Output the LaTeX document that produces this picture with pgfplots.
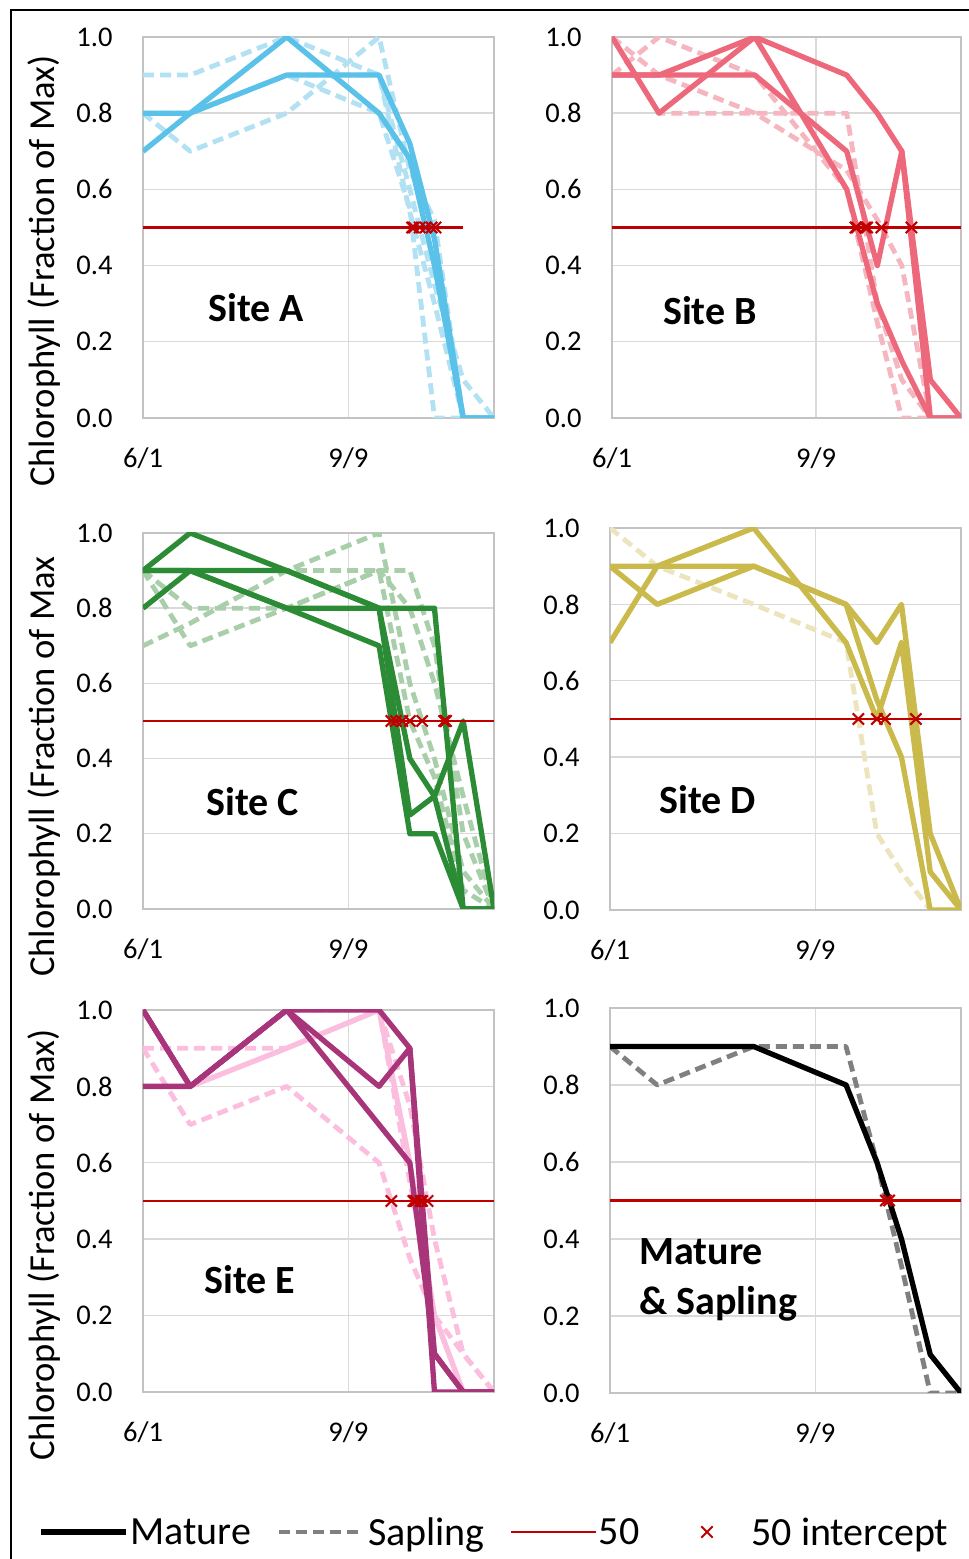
\documentclass[border=0pt]{standalone}
\usepackage{pgfplots}
\pgfplotsset{compat=1.18}
\usepackage{pgfplotstable}
\usepackage{fontspec}
\setmainfont{Carlito}

\definecolor{blueM}{RGB}{90,193,233}
\definecolor{blueS}{RGB}{178,225,244}
\definecolor{redM}{RGB}{236,104,122}
\definecolor{redS}{RGB}{246,182,192}
\definecolor{greenM}{RGB}{44,140,54}
\definecolor{greenS}{RGB}{168,206,170}
\definecolor{yelM}{RGB}{202,186,76}
\definecolor{yelS}{RGB}{235,228,188}
\definecolor{magM}{RGB}{168,52,122}
\definecolor{magS}{RGB}{252,190,222}
\definecolor{grayS}{RGB}{128,128,128}
\definecolor{refred}{RGB}{192,0,0}
\definecolor{gridgray}{RGB}{217,217,217}

% days after 6/1
\pgfplotstableread{
d   m1   m2   s1   s2   s3   s4
0   0.7  0.8  0.9  0.8  0.8  0.8
23  0.8  0.8  0.9  0.7  0.8  0.8
70  1.0  0.9  1.0  0.8  0.9  0.9
115 0.8  0.9  0.9  1.0  0.8  0.9
130 0.68 0.72 0.54 0.65 0.55 0.6
142 0.4  0.47 0.3  0.52 0.0  0.35
156 0.0  0.0  0.0  0.0  0.0  0.1
171 0.0  0.0  0.0  0.0  0.0  0.0
}\tabA
\pgfplotstableread{
d   m1   m2   m3   s1   s2   s3
0   0.9  1.0  0.9  0.9  1.0  1.0
23  0.9  0.8  0.9  1.0  0.8  0.9
70  1.0  1.0  0.9  0.9  0.8  0.8
115 0.9  0.6  0.7  0.6  0.8  0.65
130 0.8  0.3  0.4  0.25 0.3  0.52
142 0.7  0.15 0.7  0.0  0.1  0.4
156 0.1  0.0  0.0  0.0  0.0  0.0
171 0.0  0.0  0.0  0.0  0.0  0.0
}\tabB
\pgfplotstableread{
d   m1   m2   m3   m4   s1   s2   s3   s4
0   0.9  0.8  0.9  0.9  0.7  0.9  0.9  0.9
23  1.0  0.9  0.9  0.9  0.76 0.7  0.8  0.9
70  0.9  0.8  0.9  0.8  0.9  0.8  0.8  0.9
115 0.8  0.7  0.8  0.8  1.0  0.9  0.9  0.9
130 0.4  0.2  0.25 0.8  0.6  0.8  0.9  0.5
142 0.3  0.2  0.3  0.8  0.4  0.6  0.7  0.35
156 0.5  0.0  0.0  0.0  0.1  0.3  0.2  0.05
171 0.0  0.0  0.0  0.0  0.0  0.0  0.0  0.0
}\tabC
\pgfplotstableread{
d   m1   m2   m3   s1
0   0.9  0.7  0.9  1.0
23  0.9  0.9  0.8  0.9
70  0.9  1.0  0.9  0.8
115 0.8  0.7  0.8  0.7
130 0.7  0.5  0.55 0.2
142 0.8  0.7  0.4  0.1
156 0.2  0.1  0.0  0.0
171 0.0  0.0  0.0  0.0
}\tabD
\pgfplotstableread{
d   m1   m2   m3   l1   s1   s2   s3
0   0.8  1.0  1.0  1.0  0.9  0.9  1.0
23  0.8  0.8  0.8  0.8  0.9  0.7  0.8
70  1.0  1.0  1.0  0.9  0.9  0.8  1.0
115 0.8  0.7  1.0  1.0  1.0  0.6  1.0
130 0.9  0.6  0.9  0.6  0.55 0.35 0.75
142 0.0  0.1  0.1  0.2  0.2  0.2  0.4
156 0.0  0.0  0.0  0.0  0.0  0.1  0.1
171 0.0  0.0  0.0  0.0  0.0  0.0  0.0
}\tabE
\pgfplotstableread{
d   m    s
0   0.9  0.9
23  0.9  0.8
70  0.9  0.9
115 0.8  0.9
130 0.6  0.6
142 0.4  0.33
156 0.1  0.0
171 0.0  0.0
}\tabF

\tikzset{
  site/.style={font=\fontsize{40}{50}\selectfont\bfseries},
  mat/.style={line width=5.3pt, line join=round},
  sap/.style={line width=4.8pt, line join=round, dash pattern=on 11pt off 6pt},
}

\pgfplotsset{
  panel/.style={
    scale only axis, width=351pt, height=381pt, anchor=south west,
    xmin=0, xmax=171, ymin=0, ymax=1,
    xtick={0,100}, xticklabels={6/1,9/9},
    ytick={0,0.2,0.4,0.6,0.8,1.0},
    yticklabel style={/pgf/number format/fixed, /pgf/number format/fixed zerofill,
      /pgf/number format/precision=1, /pgf/number format/assume math mode=true, xshift=-27pt},
    xticklabel style={yshift=-26pt},
    tick label style={font=\fontsize{28.5}{30}\selectfont},
    grid=major, major grid style={draw=gridgray, line width=1.4pt},
    axis line style={draw=gridgray!90!black, line width=1.4pt},
    major tick length=0pt,
  },
  ytitle/.style={
    ylabel={#1},
    ylabel style={at={(axis description cs:-0.282,-0.181)}, anchor=west, inner sep=0pt,
      font=\fontsize{36.6}{40}\selectfont},
  },
  fifty/.style={solid, draw=refred, color=refred, line width=2.2pt, mark=none},
  icpt/.style={only marks, mark=x, color=refred, mark size=8pt, mark options={line width=2pt}},
  legline/.style={legend image code/.code={\draw[##1] (0pt,0pt) -- (85pt,0pt);}},
  legmark/.style={legend image code/.code={\path[draw=none] (0pt,0pt) -- (85pt,0pt); \draw[##1] plot coordinates {(42.5pt,0pt)};}},
}

\begin{document}
\begin{tikzpicture}[x=1pt,y=1pt]
\useasboundingbox (0,0) rectangle (969,1559);
\draw[line width=1.5pt] (11,-2) -- (11,1549) -- (971,1549);

% Site A
\begin{axis}[panel, at={(143pt,1141pt)}, height=381pt, ytitle={Chlorophyll (Fraction of Max)}]
\addplot[sap, blueS] table[x=d, y=s1] {\tabA};
\addplot[sap, blueS] table[x=d, y=s2] {\tabA};
\addplot[sap, blueS] table[x=d, y=s3] {\tabA};
\addplot[sap, blueS] table[x=d, y=s4] {\tabA};
\addplot[mat, blueM] table[x=d, y=m1] {\tabA};
\addplot[mat, blueM] table[x=d, y=m2] {\tabA};
\addplot[fifty] table {
x y
0 0.5
100 0.5
156 0.5
};
\addplot[icpt] coordinates {(131.1,0.5) (132,0.5) (134.8,0.5) (137.7,0.5) (140.6,0.5) (142.5,0.5)};
\node[site] at (rel axis cs:0.322,0.289) {Site A};
\end{axis}

% Site B
\begin{axis}[panel, at={(612pt,1141pt)}, width=349pt, height=381pt]
\addplot[sap, redS] table[x=d, y=s1] {\tabB};
\addplot[sap, redS] table[x=d, y=s2] {\tabB};
\addplot[sap, redS] table[x=d, y=s3] {\tabB};
\addplot[mat, redM] table[x=d, y=m1] {\tabB};
\addplot[mat, redM] table[x=d, y=m2] {\tabB};
\addplot[mat, redM] table[x=d, y=m3] {\tabB};
\addplot[fifty] table {
x y
0 0.5
100 0.5
171 0.5
};
\addplot[icpt] coordinates {(119.3,0.5) (120,0.5) (124,0.5) (125,0.5) (132,0.5) (146.7,0.5)};
\node[site] at (rel axis cs:0.281,0.281) {Site B};
\end{axis}

% Site C
\begin{axis}[panel, at={(143pt,650pt)}, height=376pt, ytitle={Chlorophyll (Fraction of Max}]
\addplot[sap, greenS] table[x=d, y=s1] {\tabC};
\addplot[sap, greenS] table[x=d, y=s2] {\tabC};
\addplot[sap, greenS] table[x=d, y=s3] {\tabC};
\addplot[sap, greenS] table[x=d, y=s4] {\tabC};
\addplot[mat, greenM] table[x=d, y=m1] {\tabC};
\addplot[mat, greenM] table[x=d, y=m2] {\tabC};
\addplot[mat, greenM] table[x=d, y=m3] {\tabC};
\addplot[mat, greenM] table[x=d, y=m4] {\tabC};
\addplot[fifty] coordinates {(0,0.5) (171,0.5)};
\addplot[icpt] coordinates {(121,0.5) (123.2,0.5) (126.3,0.5) (130,0.5) (136,0.5) (146.7,0.5) (147.3,0.5) (147.6,0.5)};
\node[site] at (rel axis cs:0.313,0.285) {Site C};
\end{axis}

% Site D
\begin{axis}[panel, at={(610pt,649pt)}, height=382pt]
\addplot[sap, yelS] table[x=d, y=s1] {\tabD};
\addplot[mat, yelM] table[x=d, y=m1] {\tabD};
\addplot[mat, yelM] table[x=d, y=m2] {\tabD};
\addplot[mat, yelM] table[x=d, y=m3] {\tabD};
\addplot[fifty] coordinates {(0,0.5) (171,0.5)};
\addplot[icpt] coordinates {(121,0.5) (130,0.5) (134,0.5) (149,0.5)};
\node[site] at (rel axis cs:0.279,0.288) {Site D};
\end{axis}

% Site E
\begin{axis}[panel, at={(143pt,167pt)}, height=382pt, ytitle={Chlorophyll (Fraction of Max)}]
\addplot[sap, magS] table[x=d, y=s1] {\tabE};
\addplot[sap, magS] table[x=d, y=s2] {\tabE};
\addplot[sap, magS] table[x=d, y=s3] {\tabE};
\addplot[mat, magS] table[x=d, y=l1] {\tabE};
\addplot[mat, magM] table[x=d, y=m1] {\tabE};
\addplot[mat, magM] table[x=d, y=m2] {\tabE};
\addplot[mat, magM] table[x=d, y=m3] {\tabE};
\addplot[fifty] coordinates {(0,0.5) (171,0.5)};
\addplot[icpt] coordinates {(121,0.5) (131.7,0.5) (132.4,0.5) (133,0.5) (135.3,0.5) (136,0.5) (138.6,0.5)};
\node[site] at (rel axis cs:0.305,0.293) {Site E};
\end{axis}

% Mature & Sapling
\begin{axis}[panel, at={(610pt,166pt)}, height=385pt]
\addplot[sap, grayS] table[x=d, y=s] {\tabF};
\addplot[mat, black] table[x=d, y=m] {\tabF};
\addplot[fifty] coordinates {(0,0.5) (171,0.5)};
\addplot[icpt] coordinates {(134.4,0.5) (136,0.5)};
\node[site, anchor=west, align=left] at (rel axis cs:0.074,0.294) {Mature\\\& Sapling};
\end{axis}

% legend
\begin{axis}[hide axis, scale only axis, width=1pt, height=1pt, at={(38pt,27pt)}, anchor=south west,
  xmin=0, xmax=1, ymin=0, ymax=1,
  legend columns=4,
  legend style={at={(axis description cs:0,0)}, anchor=west, draw=none, fill=none, inner sep=0pt,
    font=\fontsize{40}{42}\selectfont, nodes={inner sep=2pt},
    /tikz/every even column/.append style={column sep=23pt}},
  legend cell align=left]
\addlegendimage{legline, black, line width=5.3pt}
\addlegendentry{Mature}
\addlegendimage{legline, grayS, line width=4.8pt, dash pattern=on 11pt off 6pt}
\addlegendentry{Sapling}
\addlegendimage{legline, refred, line width=2.2pt}
\addlegendentry{50}
\addlegendimage{legmark, refred, mark=x, mark size=8pt, line width=2pt}
\addlegendentry{50 intercept}
\end{axis}
\end{tikzpicture}
\end{document}
